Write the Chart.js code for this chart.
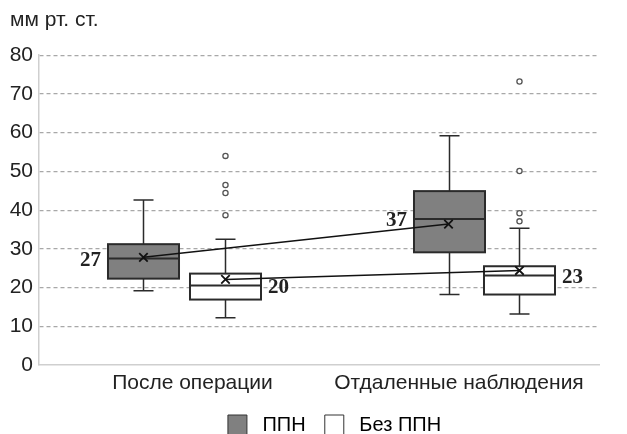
<!DOCTYPE html>
<html>
<head>
<meta charset="utf-8">
<script src="https://cdn.jsdelivr.net/npm/chart.js@4.4.1/dist/chart.umd.min.js"></script>
<style>
  html, body { margin: 0; padding: 0; background: #fff; }
  #wrap { width: 627px; height: 434px; }
  #err { position: absolute; left: 0; top: 0; color: red; font: 12px sans-serif; }
</style>
</head>
<body>
<div id="wrap"><canvas id="chart"></canvas></div>
<div id="err"></div>
<script>
window.onerror = (m) => { document.getElementById('err').textContent += m + ' | '; };
// categories and series
const categories = ['После операции', 'Отдаленные наблюдения'];
const seriesNames = ['ППН', 'Без ППН'];

// ППН boxes
const ppnMin = [19.2, 18.2];
const ppnQ1 = [22.3, 29.1];
const ppnMedian = [27.5, 37.7];
const ppnQ3 = [31.2, 44.9];
const ppnMax = [42.6, 59.2];
const ppnMean = [27.8, 36.4];
const ppnLabels = ['27', '37'];

// Без ППН boxes
const noMin = [12.2, 13.2];
const noQ1 = [16.9, 18.2];
const noMedian = [20.5, 23.1];
const noQ3 = [23.6, 25.5];
const noMax = [32.5, 35.3];
const noMean = [22.1, 24.4];
const noLabels = ['20', '23'];
const noOutliers = [[38.7, 44.4, 46.5, 54], [37.1, 39.2, 50.1, 73.2]];

const yTicks = [0, 10, 20, 30, 40, 50, 60, 70, 80];

// layout only (x offsets of boxes from each category start, in category units)
const boxOffset = [[0.373, 0.666], [0.4625, 0.716]];
const boxWidth = 0.2536;
const labelPos = [0.548, 1.5];

const boxSeries = [
  { min: ppnMin, q1: ppnQ1, med: ppnMedian, q3: ppnQ3, max: ppnMax, labels: ppnLabels, fill: '#808080', side: -1 },
  { min: noMin, q1: noQ1, med: noMedian, q3: noQ3, max: noMax, labels: noLabels, fill: '#ffffff', side: 1 }
];
const xAt = (s, i) => i + boxOffset[i][s];

function drawBoxes(chart) {
  const ctx = chart.ctx;
  const xs = chart.scales.x, ys = chart.scales.y;
  const half = (xs.getPixelForValue(boxWidth) - xs.getPixelForValue(0)) / 2;
  ctx.save();
  boxSeries.forEach((sr, s) => {
    categories.forEach((c, i) => {
      const xc = Math.round(xs.getPixelForValue(xAt(s, i))) + 0.5;
      const yTop = ys.getPixelForValue(sr.q3[i]), yBot = ys.getPixelForValue(sr.q1[i]);
      const yMax = ys.getPixelForValue(sr.max[i]), yMin = ys.getPixelForValue(sr.min[i]);
      ctx.strokeStyle = '#2b2b2b';
      ctx.lineWidth = 1.5;
      // whiskers
      ctx.beginPath();
      ctx.moveTo(xc, yMax); ctx.lineTo(xc, yTop);
      ctx.moveTo(xc, yBot); ctx.lineTo(xc, yMin);
      ctx.moveTo(xc - 10, yMax); ctx.lineTo(xc + 10, yMax);
      ctx.moveTo(xc - 10, yMin); ctx.lineTo(xc + 10, yMin);
      ctx.stroke();
      // box
      ctx.fillStyle = sr.fill;
      ctx.fillRect(xc - half, yTop, half * 2, yBot - yTop);
      ctx.lineWidth = 2;
      ctx.strokeRect(xc - half, yTop, half * 2, yBot - yTop);
      // median
      const ym = ys.getPixelForValue(sr.med[i]);
      ctx.beginPath();
      ctx.moveTo(xc - half, ym); ctx.lineTo(xc + half, ym);
      ctx.stroke();
      // value label
      ctx.fillStyle = '#222';
      ctx.font = 'bold 21px "Liberation Serif", "Times New Roman", serif';
      ctx.textBaseline = 'middle';
      ctx.textAlign = sr.side < 0 ? 'right' : 'left';
      ctx.fillText(sr.labels[i], xc + sr.side * (half + 7), ym + 2);
    });
  });
  ctx.restore();
}

const boxPlugin = {
  id: 'boxes',
  afterLayout(chart) {
    // legend sits right of centre and runs off the bottom edge in the original
    chart.legend.left += 30;
    chart.legend.right += 30;
    chart.legend.top += 11;
  },
  beforeDatasetsDraw(chart) {
    try { drawBoxes(chart); } catch (e) { document.getElementById('err').textContent += e.message; }
  }
};

const outlierPoints = [];
noOutliers.forEach((arr, i) => arr.forEach(v => outlierPoints.push({ x: xAt(1, i), y: v })));

new Chart(document.getElementById('chart'), {
  type: 'line',
  data: {
    datasets: [
      {
        label: seriesNames[0],
        data: categories.map((c, i) => ({ x: xAt(0, i), y: ppnMean[i] })),
        borderColor: '#111', borderWidth: 1.5,
        pointStyle: 'crossRot', pointRadius: 6, pointBorderWidth: 1.8, pointBorderColor: '#111'
      },
      {
        label: seriesNames[1],
        data: categories.map((c, i) => ({ x: xAt(1, i), y: noMean[i] })),
        borderColor: '#111', borderWidth: 1.5,
        pointStyle: 'crossRot', pointRadius: 6, pointBorderWidth: 1.8, pointBorderColor: '#111'
      },
      {
        label: 'outliers',
        data: outlierPoints,
        showLine: false,
        pointStyle: 'circle', pointRadius: 2.6, pointBorderWidth: 1.3,
        pointBorderColor: '#555', pointBackgroundColor: '#fff'
      }
    ]
  },
  options: {
    responsive: true,
    maintainAspectRatio: false,
    animation: false,
    layout: { padding: { left: 10, right: 28, top: 0, bottom: 0 } },
    plugins: {
      tooltip: { enabled: false },
      title: {
        display: true,
        text: 'мм рт. ст.',
        align: 'start',
        color: '#222',
        font: { family: 'Liberation Sans', size: 21, weight: 'normal' },
        padding: { top: 8, bottom: 22 }
      },
      legend: {
        position: 'bottom',
        labels: {
          boxWidth: 19, boxHeight: 20,
          padding: 8,
          color: '#222',
          font: { family: 'Liberation Sans', size: 20 },
          generateLabels() {
            return [
              { text: ' ' + seriesNames[0] + '  ', fillStyle: '#808080', strokeStyle: '#333', lineWidth: 1, hidden: false, datasetIndex: 0 },
              { text: ' ' + seriesNames[1], fillStyle: '#ffffff', strokeStyle: '#333', lineWidth: 1, hidden: false, datasetIndex: 1 }
            ];
          }
        },
        onClick() {}
      }
    },
    scales: {
      x: {
        type: 'linear', min: 0, max: 2,
        grid: { display: false },
        border: { display: true, color: '#cfcfcf', width: 1.5 },
        afterBuildTicks(scale) { scale.ticks = labelPos.map(v => ({ value: v })); },
        afterFit(scale) { scale.height = 31; },
        ticks: {
          autoSkip: false, maxRotation: 0, padding: -2,
          color: '#222',
          font: { family: 'Liberation Sans', size: 21 },
          callback(v) { return categories[labelPos.indexOf(v)]; }
        }
      },
      y: {
        min: 0, max: 80,
        afterBuildTicks(scale) { scale.ticks = yTicks.map(v => ({ value: v })); },
        afterFit(scale) { scale.width = 29; },
        grid: {
          drawTicks: false,
          color: ctx => ctx.tick && ctx.tick.value === 0 ? 'rgba(0,0,0,0)' : '#a8a8a8',
          lineWidth: 1.2
        },
        border: { display: true, color: '#cfcfcf', width: 1.5, dash: [4, 3] },
        ticks: {
          padding: 6,
          color: '#222',
          font: { family: 'Liberation Sans', size: 21 }
        }
      }
    }
  },
  plugins: [boxPlugin]
});
</script>
</body>
</html>
